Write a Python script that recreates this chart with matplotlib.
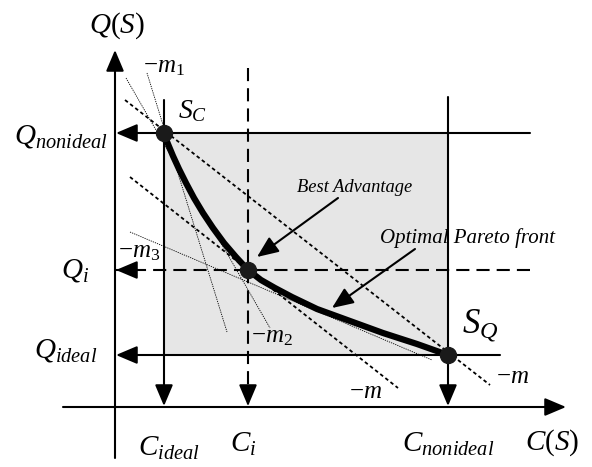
import numpy as np
import matplotlib.pyplot as plt

# diagram coordinates (pixel-like units, y grows downward)
c_axis_y = 407
q_axis_x = 115
c_ideal, c_i, c_nonideal = 164, 248, 448
q_nonideal, q_i, q_ideal = 133, 270, 355

# Pareto front (C, Q)
front_c = [164, 168, 173, 179, 186, 194, 203, 213, 224, 236, 248, 261, 275, 292,
           317, 350, 383, 417, 448]
front_q = [134, 144, 156, 169, 183, 198, 213, 228, 243, 257, 270, 280, 288, 297,
           309, 321, 333, 344, 355]

# key solutions
pts_c = [c_ideal, c_i, c_nonideal]
pts_q = [q_nonideal, q_i, q_ideal]

# slope lines: (start, end)
m_lines = [((125, 100), (490, 385)), ((130, 177), (398, 388))]
thin_lines = [((147, 73), (227, 332)),   # -m1
              ((126, 78), (270, 328)),   # -m2
              ((130, 232), (432, 360))]  # -m3

plt.rcParams['mathtext.fontset'] = 'custom'
plt.rcParams['mathtext.rm'] = 'Liberation Serif'
plt.rcParams['mathtext.it'] = 'Liberation Serif:italic'
plt.rcParams['font.family'] = ['Liberation Serif', 'DejaVu Serif']

fig = plt.figure(figsize=(5.92, 4.67), dpi=100)
ax = fig.add_axes([0, 0, 1, 1])
ax.set_xlim(0, 592)
ax.set_ylim(467, 0)
ax.axis('off')

LW = 1.5
HEAD = dict(arrowstyle='-|>,head_length=1.3,head_width=0.55', mutation_scale=10,
            lw=LW, color='black', shrinkA=0, shrinkB=0)


def arrow(start, tip):
    ax.annotate('', xy=tip, xytext=start, arrowprops=HEAD, zorder=4)


def dashed_arrow(start, tip):
    ax.plot([start[0], tip[0]], [start[1], tip[1]], color='black', lw=LW,
            linestyle=(0, (6.3, 3.4)), zorder=3)
    v = np.array(tip, float) - np.array(start, float)
    back = np.array(tip) - v / np.linalg.norm(v) * 18
    ax.annotate('', xy=tip, xytext=tuple(back), arrowprops=HEAD, zorder=4)


# shaded region
ax.fill_between([c_ideal, c_nonideal], q_nonideal, q_ideal, color='#e6e6e6', lw=0, zorder=1)

# axes
arrow((63, c_axis_y), (566, c_axis_y))
arrow((q_axis_x, 458), (q_axis_x, 50))

# solid guide lines with arrows
arrow((530, q_nonideal), (q_axis_x + 1, q_nonideal))
arrow((500, q_ideal), (q_axis_x + 1, q_ideal))
arrow((c_ideal, 100), (c_ideal, c_axis_y - 1))
arrow((c_nonideal, 97), (c_nonideal, c_axis_y - 1))

# dashed guide lines
dashed_arrow((530, q_i), (q_axis_x + 1, q_i))
dashed_arrow((c_i, 68), (c_i, c_axis_y - 1))

# slope lines
for (x0, y0), (x1, y1) in m_lines:
    ax.plot([x0, x1], [y0, y1], color='black', lw=1.3, linestyle=(0, (2, 1.6)), zorder=3)
for (x0, y0), (x1, y1) in thin_lines:
    ax.plot([x0, x1], [y0, y1], color='black', lw=0.6, linestyle=(0, (1.5, 1.2)), zorder=3)

# Pareto front and points
ax.plot(front_c, front_q, color='black', lw=4.5, solid_joinstyle='round',
        solid_capstyle='round', zorder=5)
ax.plot(pts_c, pts_q, 'o', color='#1a1a1a', markersize=11.5, zorder=6)

# annotation arrows
ax.annotate('', xy=(257, 257), xytext=(338, 198), arrowprops=HEAD, zorder=7)
ax.annotate('', xy=(332, 308), xytext=(415, 249), arrowprops=HEAD, zorder=7)

# labels
fs = 21
ax.text(117, 26, r'$Q(S)$', fontsize=21, ha='center', va='center')
ax.text(552, 443, r'$C(S)$', fontsize=21, ha='center', va='center')
ax.text(108, 143, r'$Q_{nonideal}$', fontsize=fs, ha='right', va='baseline')
ax.text(89, 277, r'$Q_i$', fontsize=fs, ha='right', va='baseline')
ax.text(97, 358, r'$Q_{ideal}$', fontsize=fs, ha='right', va='baseline')
ax.text(169, 456, r'$C_{ideal}$', fontsize=fs, ha='center', va='baseline')
ax.text(243, 452, r'$C_i$', fontsize=fs, ha='center', va='baseline')
ax.text(448, 452, r'$C_{nonideal}$', fontsize=fs, ha='center', va='baseline')
ax.text(178, 118, r'$S_C$', fontsize=20, ha='left', va='baseline')
ax.text(462, 332, r'$S_Q$', fontsize=25, ha='left', va='baseline')
ax.text(143, 72, r'$-m_1$', fontsize=18, ha='left', va='baseline')
ax.text(251, 342, r'$-m_2$', fontsize=18, ha='left', va='baseline')
ax.text(118, 257, r'$-m_3$', fontsize=18, ha='left', va='baseline')
ax.text(349, 398, r'$-m$', fontsize=18, ha='left', va='baseline')
ax.text(496, 383, r'$-m$', fontsize=18, ha='left', va='baseline')
ax.text(355, 187, 'Best Advantage', fontsize=13.3, style='italic', ha='center', va='center', zorder=8)
ax.text(467, 238, 'Optimal Pareto front', fontsize=15, style='italic', ha='center', va='center', zorder=8)

fig.savefig('out.png', dpi=100)
